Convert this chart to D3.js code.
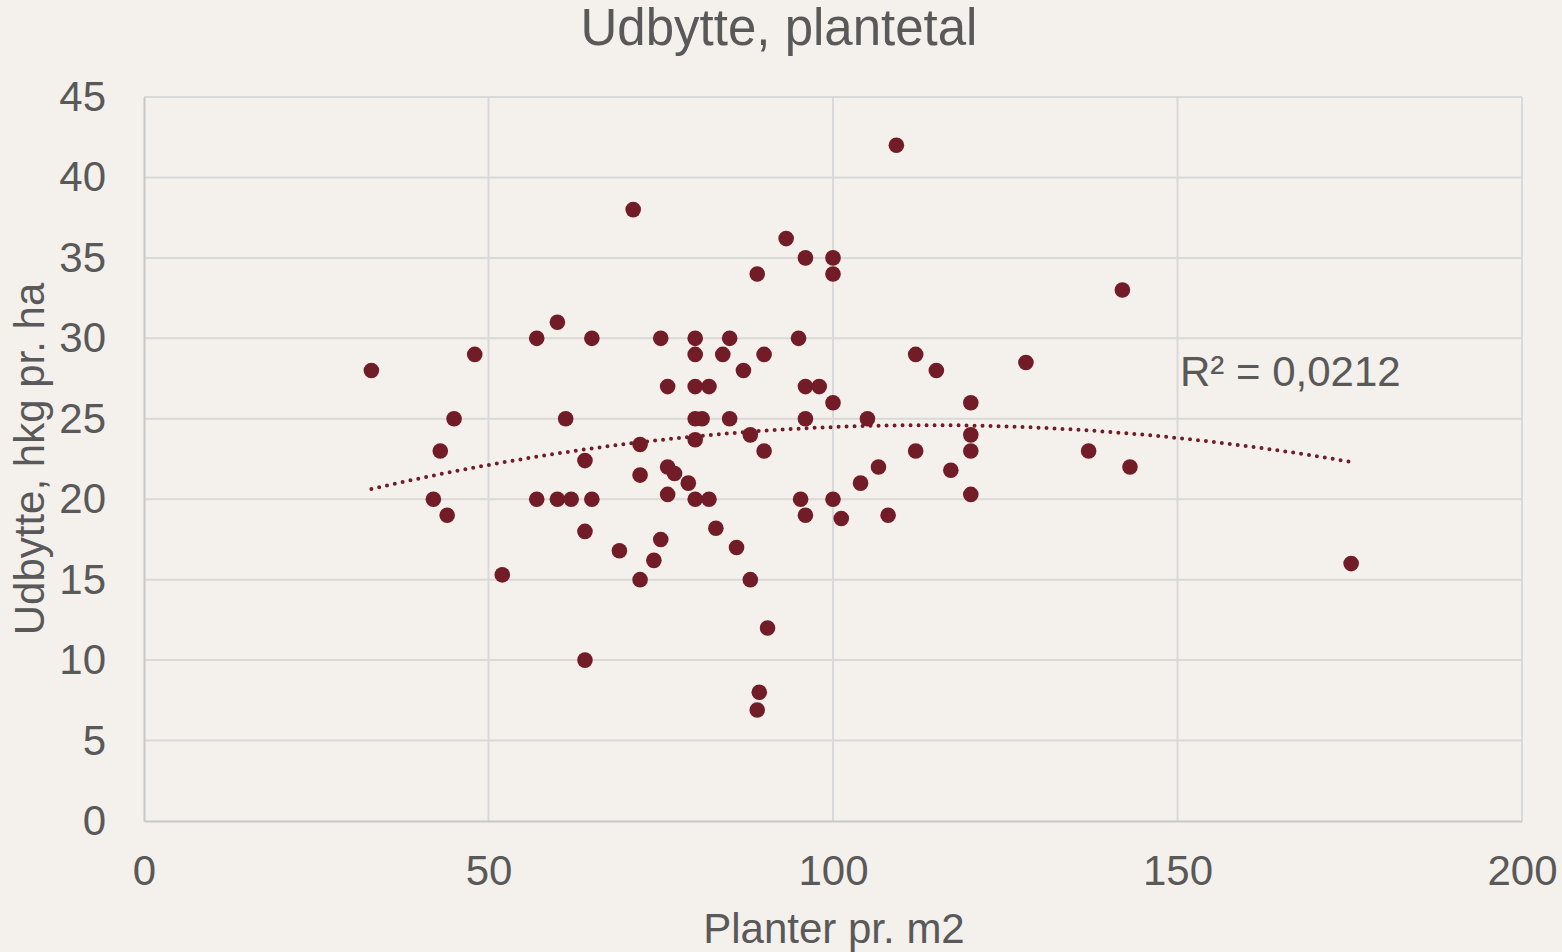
<!DOCTYPE html>
<html lang="da">
<head>
    <meta charset="UTF-8">
    <title>Udbytte, plantetal</title>
    <script src="https://d3js.org/d3.v7.min.js"></script>
    <style type="text/css">
        body { margin: 0; background: #f4f0ec; }
        text { font-family: "Liberation Sans", Arial, sans-serif; fill: #595959; }
    </style>
</head>
<body>
<script type="text/javascript">

// Planter pr. m2
var planter = [
    33.0, 42.0, 43.0, 44.0, 45.0, 48.0, 52.0, 57.0, 57.0, 60.0,
    60.0, 61.2, 62.0, 64.0, 64.0, 64.0, 65.0, 65.0, 69.0, 71.0,
    72.0, 72.0, 72.0, 74.0, 75.0, 75.0, 76.0, 76.0, 76.0, 77.0,
    79.0, 80.0, 80.0, 80.0, 80.0, 80.0, 80.0, 81.0, 82.0, 82.0,
    83.0, 84.0, 85.0, 85.0, 86.0, 87.0, 88.0, 88.0, 89.0, 89.0,
    89.3, 90.0, 90.0, 90.5, 93.2, 95.0, 95.3, 96.0, 96.0, 96.0,
    96.0, 98.0, 100.0, 100.0, 100.0, 100.0, 101.2, 104.0, 105.0, 106.6,
    108.0, 109.2, 112.0, 112.0, 115.0, 117.1, 120.0, 120.0, 120.0, 120.0,
    128.0, 137.1, 142.0, 143.1, 175.2
];
// Udbytte, hkg pr. ha
var udbytte = [
    28.0, 20.0, 23.0, 19.0, 25.0, 29.0, 15.3, 30.0, 20.0, 31.0,
    20.0, 25.0, 20.0, 22.4, 18.0, 10.0, 30.0, 20.0, 16.8, 38.0,
    23.4, 21.5, 15.0, 16.2, 30.0, 17.5, 27.0, 22.0, 20.3, 21.6,
    21.0, 30.0, 29.0, 27.0, 25.0, 23.7, 20.0, 25.0, 27.0, 20.0,
    18.2, 29.0, 30.0, 25.0, 17.0, 28.0, 24.0, 15.0, 34.0, 6.9,
    8.0, 29.0, 23.0, 12.0, 36.2, 30.0, 20.0, 35.0, 27.0, 25.0,
    19.0, 27.0, 35.0, 34.0, 26.0, 20.0, 18.8, 21.0, 25.0, 22.0,
    19.0, 42.0, 29.0, 23.0, 28.0, 21.8, 26.0, 24.0, 23.0, 20.3,
    28.5, 23.0, 33.0, 22.0, 16.0
];
var xTicks = [0, 50, 100, 150, 200];
var yTicks = [0, 5, 10, 15, 20, 25, 30, 35, 40, 45];
var title = "Udbytte, plantetal";
var xTitle = "Planter pr. m2";
var yTitle = "Udbytte, hkg pr. ha";
var r2Label = "R² = 0,0212";

var w = 1562, h = 952;
var plotLeft = 144, plotRight = 1522, plotTop = 97, plotBottom = 821;

var dataset = planter.map(function(d, i) { return { x: d, y: udbytte[i] }; });

// 2nd order polynomial trend line (least squares)
function polyFit(data) {
    var s = [0, 0, 0, 0, 0], t = [0, 0, 0];
    data.forEach(function(d) {
        for (var k = 0; k < 5; k++) s[k] += Math.pow(d.x, k);
        for (var k = 0; k < 3; k++) t[k] += d.y * Math.pow(d.x, k);
    });
    var m = [[s[0], s[1], s[2], t[0]], [s[1], s[2], s[3], t[1]], [s[2], s[3], s[4], t[2]]];
    for (var i = 0; i < 3; i++) {
        for (var j = i + 1; j < 3; j++) {
            var f = m[j][i] / m[i][i];
            for (var k = i; k < 4; k++) m[j][k] -= f * m[i][k];
        }
    }
    var c = [0, 0, 0];
    for (var i = 2; i >= 0; i--) {
        var v = m[i][3];
        for (var k = i + 1; k < 3; k++) v -= m[i][k] * c[k];
        c[i] = v / m[i][i];
    }
    return c;
}
var coef = polyFit(dataset);

var xScale = d3.scaleLinear().domain([0, 200]).range([plotLeft, plotRight]);
var yScale = d3.scaleLinear().domain([0, 45]).range([plotBottom, plotTop]);

var svg = d3.select("body")
    .append("svg")
    .attr("width", w)
    .attr("height", h);

svg.append("rect").attr("width", w).attr("height", h).attr("fill", "#f4f0ec");

// gridlines
svg.append("g")
    .selectAll("line")
    .data(yTicks.slice(1))
    .enter()
    .append("line")
    .attr("x1", plotLeft).attr("x2", plotRight)
    .attr("y1", function(d) { return yScale(d); })
    .attr("y2", function(d) { return yScale(d); })
    .attr("stroke", "#d9d9d9").attr("stroke-width", 2);

svg.append("g")
    .selectAll("line")
    .data(xTicks.slice(1))
    .enter()
    .append("line")
    .attr("y1", plotTop).attr("y2", plotBottom)
    .attr("x1", function(d) { return xScale(d); })
    .attr("x2", function(d) { return xScale(d); })
    .attr("stroke", "#d9d9d9").attr("stroke-width", 2);

// axes
var xAxis = d3.axisBottom(xScale).tickValues(xTicks).tickSize(0).tickPadding(34);
var yAxis = d3.axisLeft(yScale).tickValues(yTicks).tickSize(0).tickPadding(38);

var gx = svg.append("g").attr("transform", "translate(0," + plotBottom + ")").call(xAxis);
gx.select(".domain").attr("stroke", "#c8c8c8").attr("stroke-width", 2);
gx.selectAll("text").attr("font-size", "42px").attr("fill", "#595959")
    .attr("font-family", "Liberation Sans, Arial, sans-serif");

var gy = svg.append("g").attr("transform", "translate(" + plotLeft + ",0)").call(yAxis);
gy.select(".domain").attr("stroke", "#c8c8c8").attr("stroke-width", 2);
gy.selectAll("text").attr("font-size", "42px").attr("fill", "#595959")
    .attr("font-family", "Liberation Sans, Arial, sans-serif");

// trend line
var x0 = d3.min(planter), x1 = d3.max(planter);
var trend = d3.range(0, 101).map(function(i) {
    var x = x0 + (x1 - x0) * i / 100;
    return { x: x, y: coef[0] + coef[1] * x + coef[2] * x * x };
});
svg.append("path")
    .datum(trend)
    .attr("d", d3.line().x(function(d) { return xScale(d.x); }).y(function(d) { return yScale(d.y); }))
    .attr("fill", "none")
    .attr("stroke", "#721c28")
    .attr("stroke-width", 4)
    .attr("stroke-linecap", "round")
    .attr("stroke-dasharray", "0 8");

// points
svg.append("g")
    .selectAll("circle")
    .data(dataset)
    .enter()
    .append("circle")
    .attr("cx", function(d) { return xScale(d.x); })
    .attr("cy", function(d) { return yScale(d.y); })
    .attr("r", 7.8)
    .attr("fill", "#721c28");

// texts
svg.append("text")
    .attr("x", 779).attr("y", 45)
    .attr("text-anchor", "middle")
    .attr("font-size", "51px")
    .text(title);

svg.append("text")
    .attr("x", 834).attr("y", 943)
    .attr("text-anchor", "middle")
    .attr("font-size", "42px")
    .text(xTitle);

svg.append("text")
    .attr("transform", "translate(44,459) rotate(-90)")
    .attr("text-anchor", "middle")
    .attr("font-size", "42px")
    .text(yTitle);

svg.append("text")
    .attr("x", 1180).attr("y", 386)
    .attr("font-size", "42px")
    .text(r2Label);

</script>
</body>
</html>
